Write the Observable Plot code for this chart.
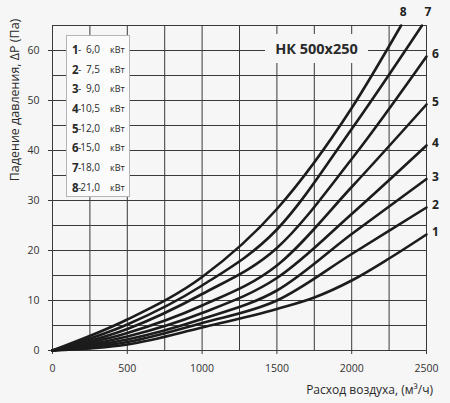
<!DOCTYPE html>
<html><head><meta charset="utf-8">
<script src="https://cdn.jsdelivr.net/npm/d3@7"></script>
<script src="https://cdn.jsdelivr.net/npm/@observablehq/plot@0.6"></script>
<style>
html,body{margin:0;padding:0;background:#f6f6f6;}
#wrap{position:relative;width:450px;height:403px;font-family:"Open Sans",sans-serif;color:#2a2a2a;}
#wrap svg{position:absolute;left:0;top:0;background:#f6f6f6;}
.ov{position:absolute;white-space:nowrap;}
#legend{left:66px;top:35px;width:64px;height:162px;background:#fbfbfb;border:1px solid #b5b5b5;}
.row{position:relative;height:19.7px;}
.row .n{position:absolute;left:5px;top:0;font-weight:bold;font-size:11.5px;line-height:19.7px;}
.row .d{position:absolute;left:11px;top:0;font-size:10px;line-height:19.7px;}
.row .v{position:absolute;right:29px;top:0;font-size:10px;line-height:19.7px;}
.row .u{position:absolute;left:43px;top:0;font-size:9px;line-height:19.7px;}
#title{left:265px;top:34px;width:103px;height:29px;background:#f6f6f6;font-weight:bold;font-size:14.5px;line-height:29px;text-align:center;}
#ylab{left:14px;top:100px;font-size:12.5px;transform:translate(-50%,-50%) rotate(-90deg);}
#xlab{right:17px;top:381px;font-size:12px;line-height:18px;}
</style></head>
<body><div id="wrap"></div>
<script>
// Data
const flow1 = [0, 500, 1000, 1500, 1750, 2000, 2250, 2500];
const dp1   = [0, 1.2, 4.6, 8.3, 10.6, 14, 18.4, 23.2];
const flow2 = [0, 500, 1000, 1500, 2000, 2500];
const dp2   = [0, 1.7, 5.5, 10, 19.3, 28.6];
const flow3 = [0, 500, 1000, 1500, 2000, 2500];
const dp3   = [0, 2.2, 6.3, 12, 23.3, 34.3];
const flow4 = [0, 500, 1000, 1500, 2000, 2500];
const dp4   = [0, 2.8, 7.5, 14.5, 27.3, 41];
const flow5 = [0, 500, 1000, 1500, 2000, 2500];
const dp5   = [0, 3.5, 9, 17, 32.7, 49.2];
const flow6 = [0, 500, 1000, 1500, 2000, 2500];
const dp6   = [0, 4.3, 11.3, 20.5, 38.3, 58.8];
const flow7 = [0, 500, 1000, 1500, 2000, 2470];
const dp7   = [0, 5.2, 13, 24.2, 44.3, 65];
const flow8 = [0, 500, 1000, 1500, 2000, 2330];
const dp8   = [0, 6.2, 14.7, 28.3, 48.5, 65];

const curveIds = [1, 2, 3, 4, 5, 6, 7, 8];
const powers = ["6,0", "7,5", "9,0", "10,5", "12,0", "15,0", "18,0", "21,0"];
const unit = "кВт";
const xTicks = [0, 500, 1000, 1500, 2000, 2500];
const yTicks = [0, 10, 20, 30, 40, 50, 60];
const xGrid = d3.range(0, 2501, 250);
const yGrid = d3.range(0, 66, 5);
const titleText = "НК 500x250";
const yLabel = "Падение давления,  ΔP (Па)";
const xLabel = "Расход воздуха, (м³/ч)";

const flows = [flow1, flow2, flow3, flow4, flow5, flow6, flow7, flow8];
const dps = [dp1, dp2, dp3, dp4, dp5, dp6, dp7, dp8];
const points = curveIds.flatMap((id, i) => flows[i].map((q, j) => ({id, q, p: dps[i][j]})));
const ends = curveIds.map((id, i) => ({id, q: flows[i][flows[i].length - 1], p: dps[i][dps[i].length - 1]}));

const chart = Plot.plot({
  width: 450, height: 403,
  marginLeft: 52, marginRight: 24, marginTop: 25, marginBottom: 53,
  style: {background: "#f6f6f6", fontFamily: "Open Sans, sans-serif", fontSize: "10.5px", color: "#333"},
  x: {domain: [0, 2500]},
  y: {domain: [0, 65]},
  marks: [
    Plot.ruleX(xGrid, {stroke: "#3a3a3a", strokeWidth: 1}),
    Plot.ruleY(yGrid, {stroke: "#3a3a3a", strokeWidth: 1}),
    Plot.axisX({ticks: xTicks, tickSize: 4, tickPadding: 10, label: null, tickFormat: d => String(d), stroke: "#3a3a3a"}),
    Plot.axisY({ticks: yTicks, tickSize: 4, tickPadding: 9, label: null, stroke: "#3a3a3a"}),
    Plot.line(points, {x: "q", y: "p", z: "id", curve: "monotone-x", stroke: "#1c1c1c", strokeWidth: 2.6}),
    Plot.text(ends.filter(d => d.id <= 6), {x: "q", y: "p", text: d => String(d.id), dx: 9, dy: -2, fontWeight: "bold", fontSize: 12, fill: "#222"}),
    Plot.text(ends.filter(d => d.id === 7), {x: "q", y: "p", text: d => String(d.id), dx: 6, dy: -13, fontWeight: "bold", fontSize: 12, fill: "#222"}),
    Plot.text(ends.filter(d => d.id === 8), {x: "q", y: "p", text: d => String(d.id), dx: 2, dy: -13, fontWeight: "bold", fontSize: 12, fill: "#222"})
  ]
});

const wrap = document.getElementById("wrap");
wrap.appendChild(chart);

const title = document.createElement("div");
title.className = "ov"; title.id = "title"; title.textContent = titleText;
wrap.appendChild(title);

const legend = document.createElement("div");
legend.className = "ov"; legend.id = "legend";
legend.style.paddingTop = "4px";
legend.style.boxSizing = "border-box";
curveIds.forEach((id, i) => {
  const r = document.createElement("div");
  r.className = "row";
  r.innerHTML = `<span class="n">${id}</span><span class="d">-</span><span class="v">${powers[i]}</span><span class="u">${unit}</span>`;
  legend.appendChild(r);
});
wrap.appendChild(legend);

const yl = document.createElement("div");
yl.className = "ov"; yl.id = "ylab"; yl.textContent = yLabel;
wrap.appendChild(yl);

const xl = document.createElement("div");
xl.className = "ov"; xl.id = "xlab"; xl.textContent = xLabel;
wrap.appendChild(xl);
</script>
</body></html>
